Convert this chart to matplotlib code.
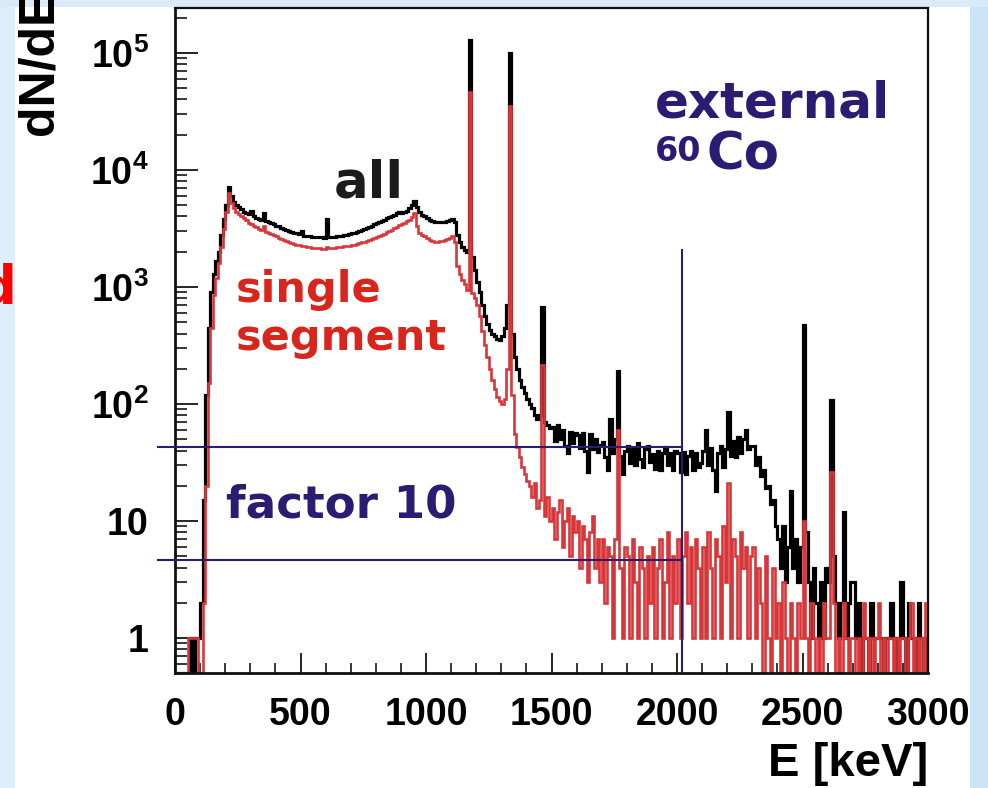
import numpy as np
import matplotlib
matplotlib.use("Agg")
import matplotlib.pyplot as plt
from matplotlib.patches import Rectangle
from matplotlib.ticker import MultipleLocator, LogLocator, NullFormatter

# ---------------- data (10 keV bins) ----------------
bin_width = 10
all_counts = [
    0, 0, 0, 0, 0, 0, 1, 0, 1, 1,
    2, 15, 120, 450, 900, 1300, 1650, 2000, 2800, 3800,
    5000, 7100, 6000, 5300, 5000, 4800, 4600, 4400, 4300, 4200,
    4500, 4000, 3900, 3800, 3750, 4300, 3650, 3600, 3500, 3450,
    3350, 3300, 3200, 3150, 3070, 3000, 2950, 2900, 2880, 2850,
    3000, 2750, 2720, 2700, 2690, 2680, 2670, 2660, 2650, 2640,
    3800, 2650, 2650, 2680, 2700, 2720, 2740, 2760, 2800, 2840,
    2870, 2900, 2950, 3000, 3050, 3120, 3200, 3280, 3350, 3450,
    3500, 3580, 3650, 3750, 3850, 3950, 4050, 4150, 4300, 4400,
    4300, 4400, 4500, 4700, 5000, 5400, 4800, 4400, 4150, 4000,
    3850, 3700, 3650, 3600, 3600, 3580, 3600, 3620, 3650, 3700,
    3800, 3600, 2800, 2400, 2200, 2050, 2000, 130000, 1800, 1400,
    1100, 900, 700, 560, 480, 430, 400, 380, 360, 355,
    380, 450, 700, 100000, 400, 250, 200, 160, 140, 125,
    110, 100, 92, 80, 75, 80, 680, 70, 66, 62,
    64, 48, 66, 50, 60, 44, 38, 58, 46, 56,
    54, 42, 57, 40, 26, 55, 41, 50, 39, 45,
    47, 35, 27, 75, 38, 50, 190, 36, 25, 40,
    44, 31, 42, 30, 46, 34, 29, 41, 44, 32,
    37, 28, 40, 27, 38, 43, 30, 38, 27, 40,
    38, 26, 39, 25, 36, 40, 27, 38, 29, 31,
    40, 60, 30, 42, 27, 18, 38, 44, 29, 41,
    85, 36, 48, 35, 52, 38, 50, 60, 41, 44,
    44, 30, 35, 24, 27, 19, 20, 14, 15, 9,
    7, 4, 9, 3, 6, 18, 4, 7, 3, 6,
    470, 8, 3, 1, 4, 2, 1, 3, 1, 4,
    3, 108, 5, 2, 1, 2, 12, 1, 2, 3,
    3, 1, 2, 0, 1, 1, 0, 2, 1, 1,
    1, 1, 0, 1, 1, 2, 1, 0, 1, 3,
    1, 0, 2, 1, 1, 0, 2, 1, 0, 1,
]
single_counts = [
    0, 0, 0, 0, 0, 1, 1, 1, 1, 0,
    0, 2, 20, 150, 450, 850, 1200, 1600, 2200, 3100,
    4400, 6300, 5200, 4700, 4400, 4200, 4000, 3850, 3700, 3550,
    3450, 3350, 3250, 3150, 3080, 3300, 2950, 2900, 2850, 2800,
    2700, 2620, 2560, 2500, 2460, 2420, 2380, 2340, 2300, 2270,
    2250, 2230, 2210, 2190, 2170, 2160, 2150, 2140, 2130, 2130,
    2200, 2140, 2150, 2160, 2180, 2190, 2200, 2220, 2240, 2260,
    2280, 2300, 2330, 2360, 2400, 2440, 2480, 2530, 2580, 2630,
    2680, 2730, 2780, 2850, 2920, 3000, 3080, 3170, 3260, 3360,
    3450, 3550, 3650, 3750, 3950, 4300, 3300, 2900, 2780, 2700,
    2600, 2500, 2450, 2420, 2420, 2450, 2480, 2520, 2560, 2600,
    2700, 2400, 1500, 1300, 1150, 1050, 950, 46000, 880, 800,
    700, 560, 420, 320, 250, 200, 160, 135, 115, 105,
    100, 110, 200, 35000, 120, 55, 43, 35, 29, 25,
    22, 20, 16, 21, 13, 15, 215, 11, 16, 10,
    13, 7, 12, 15, 6, 10, 13, 5, 11, 8,
    10, 4, 9, 7, 3, 8, 11, 4, 7, 3,
    7, 2, 6, 5, 1, 7, 60, 4, 1, 6,
    5, 1, 7, 3, 1, 6, 4, 1, 5, 2,
    6, 1, 4, 7, 1, 3, 8, 1, 5, 2,
    7, 1, 5, 8, 2, 6, 1, 7, 4, 1,
    6, 1, 8, 4, 1, 7, 5, 1, 9, 3,
    21, 1, 7, 5, 1, 8, 4, 6, 1, 5,
    6, 1, 4, 2, 0, 5, 1, 0, 4, 1,
    2, 0, 3, 1, 0, 2, 1, 0, 2, 1,
    10, 1, 0, 2, 1, 0, 1, 0, 2, 1,
    1, 26, 2, 0, 1, 0, 2, 1, 0, 1,
    1, 0, 1, 0, 2, 1, 0, 1, 0, 1,
    2, 0, 1, 0, 1, 1, 0, 1, 0, 1,
    1, 0, 1, 2, 0, 1, 0, 1, 0, 2,
]
x_ticks = [0, 500, 1000, 1500, 2000, 2500, 3000]
y_ticks = [1, 10, 100, 1e3, 1e4, 1e5]
y_tick_labels = ["1", "10", r"$10^{2}$", r"$10^{3}$", r"$10^{4}$", r"$10^{5}$"]
upper_level = 43      # upper "factor 10" line
lower_level = 4.6     # lower "factor 10" line
q_line_energy = 2020  # vertical marker
q_line_top = 2070

# ---------------- style ----------------
plt.rcParams["font.family"] = ["Liberation Sans", "DejaVu Sans"]
plt.rcParams["font.weight"] = "bold"
plt.rcParams["mathtext.fontset"] = "custom"
plt.rcParams["mathtext.rm"] = "Liberation Sans:bold"
plt.rcParams["mathtext.default"] = "rm"

W, H = 988, 788
fig = plt.figure(figsize=(W / 100, H / 100), dpi=100)
fig.patch.set_facecolor("#cbe4f7")


def fx(x):
    return x / W


def fy(y):
    return 1 - y / H


# slide background
fig.patches.append(Rectangle((0, 0), fx(15), 1, transform=fig.transFigure,
                             facecolor="#deeefa", edgecolor="none", zorder=-3))
fig.patches.append(Rectangle((0, fy(7)), 1, 1 - fy(7), transform=fig.transFigure,
                             facecolor="#d9ebf9", edgecolor="none", zorder=-3))
fig.patches.append(Rectangle((fx(15), 0), fx(970) - fx(15), fy(7),
                             transform=fig.transFigure, facecolor="white",
                             edgecolor="none", zorder=-2))

ax = fig.add_axes([fx(175), fy(673), fx(928) - fx(175), fy(8) - fy(673)])
ax.set_facecolor("white")

edges = np.arange(0, 3000 + bin_width, bin_width)
ymin, ymax = 0.502, 2.42e5
a = np.maximum(np.array(all_counts, float), ymin)
s = np.maximum(np.array(single_counts, float), ymin)
ax.stairs(a, edges, baseline=None, color="black", lw=2.3, zorder=2)
ax.stairs(s, edges, baseline=None, color="#d8373a", lw=1.9, zorder=2.1)

navy = "#2b1b72"
ax.plot([-68, q_line_energy], [upper_level, upper_level], color=navy, lw=1.5,
        clip_on=False, zorder=3)
ax.plot([-68, q_line_energy], [lower_level, lower_level], color=navy, lw=1.5,
        clip_on=False, zorder=3)
ax.plot([q_line_energy, q_line_energy], [ymin, q_line_top], color=navy, lw=1.5,
        zorder=3)

ax.set_yscale("log")
ax.set_xlim(0, 3000)
ax.set_ylim(ymin, ymax)
ax.set_xticks(x_ticks)
ax.set_xticklabels([str(v) for v in x_ticks])
ax.xaxis.set_minor_locator(MultipleLocator(100))
ax.set_yticks(y_ticks)
ax.set_yticklabels(y_tick_labels)
ax.yaxis.set_minor_locator(LogLocator(base=10, subs=np.arange(2, 10)))
ax.yaxis.set_minor_formatter(NullFormatter())

ax.tick_params(axis="y", which="major", direction="in", length=16.5, width=1.2,
               pad=19, labelsize=27)
ax.tick_params(axis="y", which="minor", direction="in", length=8.6, width=1.1)
ax.tick_params(axis="x", which="major", direction="in", length=14.4, width=1.2,
               pad=17, labelsize=27)
ax.tick_params(axis="x", which="minor", direction="in", length=7.2, width=1.1)
ax.tick_params(top=False, right=False, which="both")
for side, lw in (("left", 2.0), ("bottom", 2.0), ("top", 1.6), ("right", 1.6)):
    ax.spines[side].set_linewidth(lw)
    ax.spines[side].set_color("#111111")

# axis titles
fig.text(fx(16), fy(135), "dN/dE", rotation=90, ha="left", va="bottom",
         fontsize=36, fontweight="bold", color="black")
fig.text(fx(928), fy(776), "E [keV]", ha="right", va="baseline",
         fontsize=34, fontweight="bold", color="black")

# annotations
ann = dict(family=["DejaVu Sans"], fontweight="bold", ha="left", va="baseline")
red_txt = "#d9261c"
fig.text(fx(334), fy(198), "all", fontsize=37, color="#1c1a1a", **ann)
fig.text(fx(236), fy(302), "single", fontsize=31, color=red_txt, **ann)
fig.text(fx(236), fy(350), "segment", fontsize=31, color=red_txt, **ann)
fig.text(fx(226), fy(517), "factor 10", fontsize=32.5, color=navy, **ann)
fig.text(fx(655), fy(117), "external", fontsize=36, color=navy, **ann)
fig.text(fx(655), fy(161), "60", fontsize=24, color=navy, **ann)
fig.text(fx(706), fy(170), "Co", fontsize=37, color=navy, **ann)
fig.text(fx(16), fy(303), "d", fontsize=38, color="#ff0000",
         family=["DejaVu Sans"], fontweight="bold", ha="right", va="baseline")

fig.savefig("out.png", dpi=100, facecolor=fig.get_facecolor())
